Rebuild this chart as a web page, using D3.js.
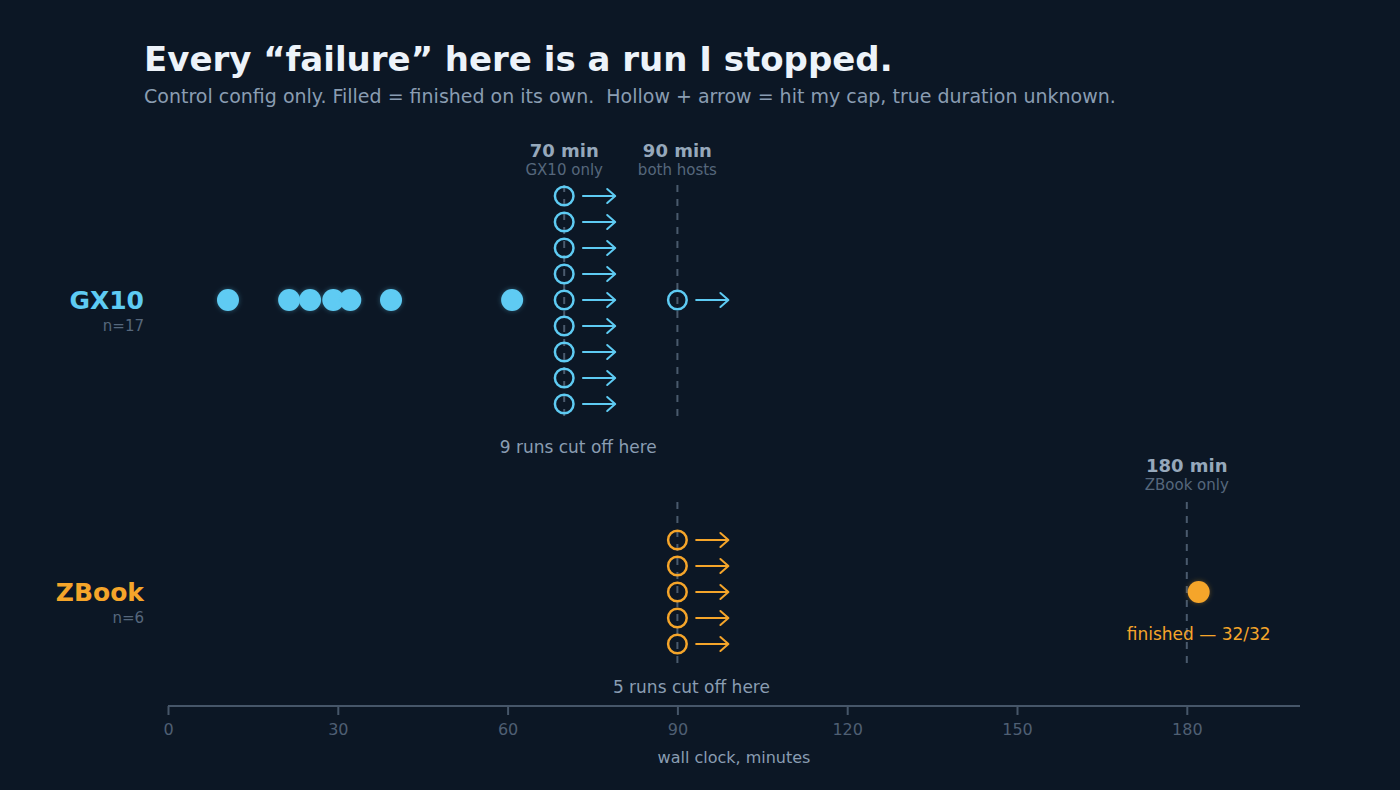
<!DOCTYPE html>
<html lang="en">
<head>
    <meta charset="UTF-8">
    <title>Every failure here is a run I stopped</title>
    <script src="https://cdn.jsdelivr.net/npm/d3@7/dist/d3.min.js"></script>
    <style>
        html, body { margin: 0; padding: 0; background: #0c1725; }
        svg { display: block; font-family: "DejaVu Sans", sans-serif; }
    </style>
</head>
<body>
    <svg width="1400" height="790" id="mainsvg"></svg>
    <script>
        // data
        const hosts = ['GX10', 'ZBook'];
        const hostCounts = [17, 6];
        const gx10Finished = [10.6, 21.4, 25.1, 29.2, 32.2, 39.4, 60.8];
        const gx10Capped = [70, 70, 70, 70, 70, 70, 70, 70, 70, 90];
        const zbookFinished = [182.1];
        const zbookCapped = [90, 90, 90, 90, 90];
        const capMinutes = [70, 90, 180];
        const capNotes = ['GX10 only', 'both hosts', 'ZBook only'];
        const xTicks = [0, 30, 60, 90, 120, 150, 180];

        const colors = { GX10: '#5ecbf3', ZBook: '#f5a52a' };

        const svg = d3.select('#mainsvg');
        svg.append('rect').attr('width', 1400).attr('height', 790).attr('fill', '#0c1725');

        const defs = svg.append('defs');
        const glow = defs.append('filter').attr('id', 'glow')
            .attr('x', '-50%').attr('y', '-50%').attr('width', '200%').attr('height', '200%');
        glow.append('feGaussianBlur').attr('in', 'SourceGraphic').attr('stdDeviation', 2.5).attr('result', 'b');
        glow.append('feComponentTransfer').attr('in', 'b').attr('result', 'bf')
            .append('feFuncA').attr('type', 'linear').attr('slope', 0.35);
        const fm = glow.append('feMerge');
        fm.append('feMergeNode').attr('in', 'bf');
        fm.append('feMergeNode').attr('in', 'SourceGraphic');

        const x = d3.scaleLinear().domain([0, 200]).range([168, 1300]);
        const y = d3.scalePoint().domain(hosts).range([300, 592]);
        const step = 26;

        // title
        svg.append('text').attr('x', 144).attr('y', 71)
            .attr('fill', '#edf3fa').attr('font-size', 34).attr('font-weight', 'bold')
            .text('Every \u201cfailure\u201d here is a run I stopped.');
        svg.append('text').attr('x', 144).attr('y', 103)
            .attr('fill', '#8a9db2').attr('font-size', 19)
            .attr('xml:space', 'preserve')
            .text('Control config only. Filled = finished on its own.  Hollow + arrow = hit my cap, true duration unknown.');

        // cap lines
        const capSpans = [
            [[185, 418]],
            [[185, 418], [502, 670]],
            [[502, 670]]
        ];
        capMinutes.forEach((m, i) => {
            capSpans[i].forEach(s => {
                svg.append('line')
                    .attr('x1', x(m)).attr('x2', x(m))
                    .attr('y1', s[0]).attr('y2', s[1])
                    .attr('stroke', '#4a5a6d').attr('stroke-width', 2)
                    .attr('stroke-dasharray', '7,7');
            });
        });
        const capLabelY = [157, 157, 472];
        capMinutes.forEach((m, i) => {
            svg.append('text').attr('x', x(m)).attr('y', capLabelY[i])
                .attr('text-anchor', 'middle').attr('fill', '#96a8bb')
                .attr('font-size', 18).attr('font-weight', 'bold')
                .text(m + ' min');
            svg.append('text').attr('x', x(m)).attr('y', capLabelY[i] + 18)
                .attr('text-anchor', 'middle').attr('fill', '#56677c')
                .attr('font-size', 15)
                .text(capNotes[i]);
        });

        // host labels
        hosts.forEach((h, i) => {
            svg.append('text').attr('x', 144).attr('y', y(h) + 9)
                .attr('text-anchor', 'end').attr('fill', colors[h])
                .attr('font-size', 25).attr('font-weight', 'bold')
                .text(h);
            svg.append('text').attr('x', 144).attr('y', y(h) + 31)
                .attr('text-anchor', 'end').attr('fill', '#56677c')
                .attr('font-size', 15)
                .text('n=' + hostCounts[i]);
        });

        // stack capped runs by value
        function stacked(vals) {
            const groups = d3.group(vals, v => v);
            const out = [];
            groups.forEach((arr, v) => {
                arr.forEach((_, j) => out.push({ v: v, k: j - (arr.length - 1) / 2 }));
            });
            return out;
        }

        function drawHost(h, finished, capped) {
            const g = svg.append('g');
            const c = colors[h];
            g.selectAll('circle.fin').data(finished).enter()
                .append('circle').attr('class', 'fin')
                .attr('cx', d => x(d)).attr('cy', y(h)).attr('r', 11)
                .attr('fill', c).attr('filter', 'url(#glow)');

            const cap = stacked(capped);
            g.selectAll('circle.cap').data(cap).enter()
                .append('circle').attr('class', 'cap')
                .attr('cx', d => x(d.v)).attr('cy', d => y(h) + d.k * step).attr('r', 9.3)
                .attr('fill', 'none').attr('stroke', c).attr('stroke-width', 2.5);
            const arrows = g.selectAll('g.arrow').data(cap).enter()
                .append('g').attr('class', 'arrow')
                .attr('transform', d => `translate(${x(d.v)},${y(h) + d.k * step})`);
            arrows.append('line').attr('x1', 18).attr('x2', 51).attr('y1', 0).attr('y2', 0)
                .attr('stroke', c).attr('stroke-width', 2);
            arrows.append('path').attr('d', 'M43,-7 L51,0 L43,7')
                .attr('fill', 'none').attr('stroke', c).attr('stroke-width', 2)
                .attr('stroke-linecap', 'round').attr('stroke-linejoin', 'round');
        }
        drawHost('GX10', gx10Finished, gx10Capped);
        drawHost('ZBook', zbookFinished, zbookCapped);

        // annotations
        svg.append('text').attr('x', x(70) + 14).attr('y', 453)
            .attr('text-anchor', 'middle').attr('fill', '#8a9db2').attr('font-size', 17)
            .text(gx10Capped.filter(v => v === 70).length + ' runs cut off here');
        svg.append('text').attr('x', x(90) + 14).attr('y', 693)
            .attr('text-anchor', 'middle').attr('fill', '#8a9db2').attr('font-size', 17)
            .text(zbookCapped.length + ' runs cut off here');
        svg.append('text').attr('x', x(zbookFinished[0])).attr('y', 640)
            .attr('text-anchor', 'middle').attr('fill', colors.ZBook).attr('font-size', 17)
            .text('finished \u2014 32/32');

        // axis
        const axis = svg.append('g').attr('transform', 'translate(0,706)')
            .call(d3.axisBottom(x).tickValues(xTicks).tickSize(9).tickPadding(9).tickSizeOuter(0));
        axis.attr('font-size', 16).attr('font-family', '"DejaVu Sans", sans-serif');
        axis.select('.domain').attr('stroke', '#465669').attr('stroke-width', 2)
            .attr('d', `M${x(0)},0H${x(200)}`);
        axis.selectAll('.tick line').attr('stroke', '#465669').attr('stroke-width', 2);
        axis.selectAll('.tick text').attr('fill', '#4f5f73');
        svg.append('text').attr('x', (x(0) + x(200)) / 2).attr('y', 763)
            .attr('text-anchor', 'middle').attr('fill', '#8a9db2').attr('font-size', 16)
            .text('wall clock, minutes');
    </script>
</body>
</html>
